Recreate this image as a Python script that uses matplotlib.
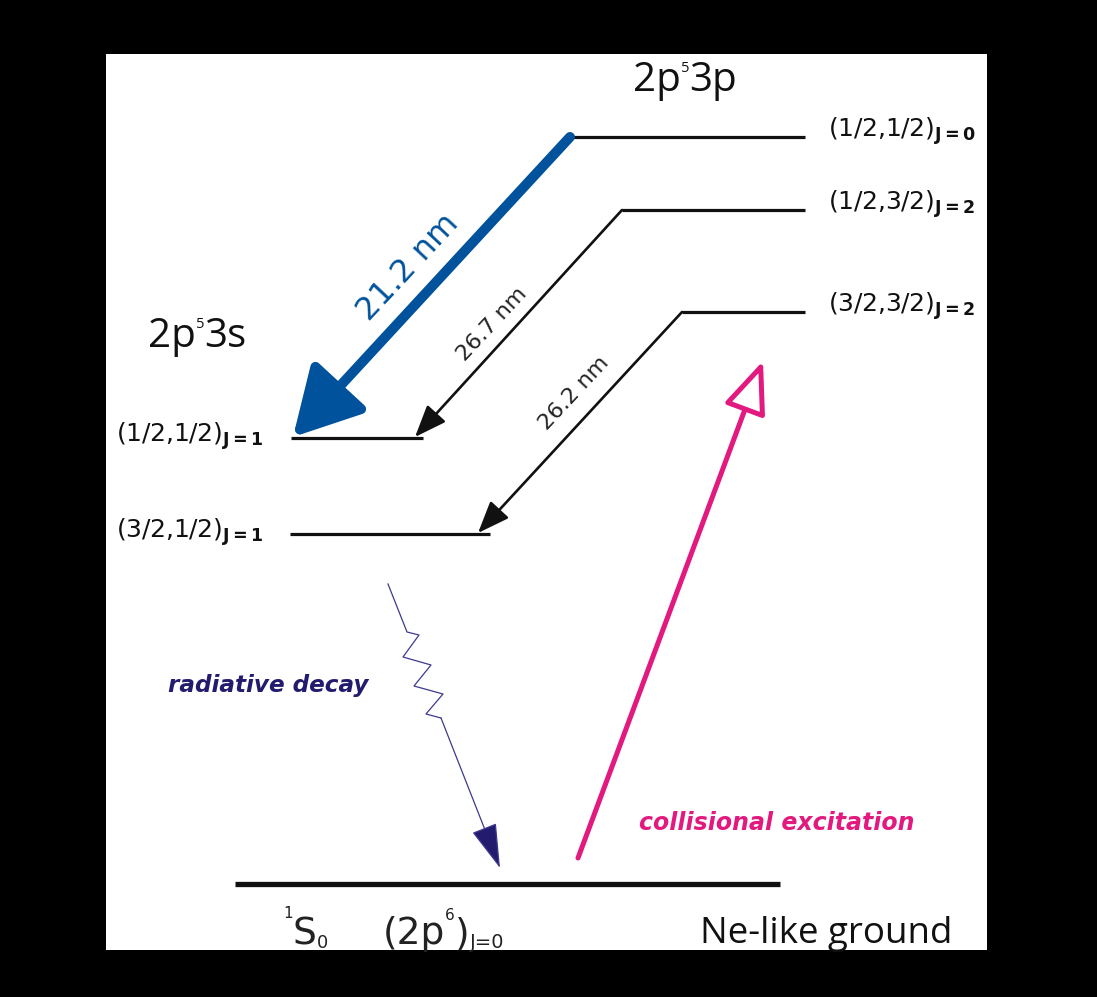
import matplotlib
matplotlib.use("Agg")
import matplotlib.pyplot as plt
from matplotlib.patches import Rectangle

plt.rcParams['mathtext.fontset'] = 'custom'
plt.rcParams['mathtext.rm'] = 'DejaVu Sans'
plt.rcParams['mathtext.bf'] = 'DejaVu Sans:bold'
plt.rcParams['font.family'] = 'DejaVu Sans'

# 2p5 3p (upper) levels: label, y, left end of level line
upper_labels = ['(1/2{,}1/2)', '(1/2{,}3/2)', '(3/2{,}3/2)']
upper_J = ['J=0', 'J=2', 'J=2']
upper_y = [137, 210, 312]
upper_x0 = [570, 622, 682]
upper_x1 = 805

# 2p5 3s (lower) levels
lower_labels = ['(1/2{,}1/2)', '(3/2{,}1/2)']
lower_J = ['J=1', 'J=1']
lower_y = [438, 534]
lower_x0 = [291, 290]
lower_x1 = [423, 490]

# ground level
ground_y = 884
ground_x = [235, 780]

# lasing transitions: upper index -> lower index, tip x on the lower level
trans_upper = [0, 1, 2]
trans_lower = [0, 0, 1]
trans_tip_x = [293, 415, 478]
trans_text = ['21.2 nm', '26.7 nm', '26.2 nm']
trans_text_xy = [(408, 267), (492, 324), (574, 393)]

# radiative decay zigzag and collisional excitation arrow
decay_x = [388, 407, 419, 403, 431, 414, 443, 426, 441]
decay_y = [584, 632, 635, 657, 665, 686, 694, 714, 718]
decay_tip = (500, 868)
excite_start = (578, 858)
excite_tip = (763, 361)

BLUE = '#00529c'
NAVY = '#231c6e'
PINK = '#e2197f'

fig = plt.figure(figsize=(10.97, 9.97), dpi=100, facecolor='black')
ax = fig.add_axes([0, 0, 1, 1])
ax.set_xlim(0, 1097)
ax.set_ylim(997, 0)
ax.axis('off')
ax.add_patch(Rectangle((106, 54), 881, 896, fc='white', ec='none', zorder=0))


def chain(x, y, parts, **kw):
    # pieces of text placed one after another; dy (pixels) shifts the baseline up
    prev = None
    for s, fs, dy in parts:
        if prev is None:
            prev = ax.text(x, y - dy, s, fontsize=fs, va='baseline', **kw)
        else:
            prev = ax.annotate(s, xy=(1, y), xycoords=(prev, 'data'),
                               xytext=(0, dy), textcoords='offset pixels',
                               fontsize=fs, va='baseline', **kw)


# levels
ax.hlines(upper_y, upper_x0, upper_x1, color='#111111', lw=2.3)
ax.hlines(lower_y, lower_x0, lower_x1, color='#111111', lw=2.3)
ax.hlines(ground_y, ground_x[0], ground_x[1], color='#111111', lw=3.8)

for lab, j, y in zip(upper_labels, upper_J, upper_y):
    ax.text(828, y, r'$\mathregular{%s}_{\mathbf{%s}}$' % (lab, j),
            fontsize=18, va='baseline', ha='left', color='#111111')
for lab, j, y in zip(lower_labels, lower_J, lower_y):
    ax.text(263, y + 4, r'$\mathregular{%s}_{\mathbf{%s}}$' % (lab, j),
            fontsize=18, va='baseline', ha='right', color='#111111')

# transitions
for k, (u, l, tx) in enumerate(zip(trans_upper, trans_lower, trans_tip_x)):
    start = (upper_x0[u], upper_y[u])
    tip = (tx, lower_y[l] - 1)
    if k == 0:
        props = dict(arrowstyle='-|>,head_length=2.9,head_width=1.6',
                     mutation_scale=14, lw=7.2, color=BLUE,
                     capstyle='round', shrinkA=0, shrinkB=0)
        col, fs = BLUE, 23
    else:
        props = dict(arrowstyle='-|>,head_length=1.4,head_width=0.55',
                     mutation_scale=14, lw=1.9, color='#111111',
                     shrinkA=0, shrinkB=0)
        col, fs = '#222222', 16
    ax.annotate('', xy=tip, xytext=start, arrowprops=props)
    tx_, ty_ = trans_text_xy[k]
    ax.text(tx_, ty_, trans_text[k], rotation=47, rotation_mode='anchor',
            ha='center', va='center', color=col, fontsize=fs)

# term labels
chain(633, 91, [('2p', 29, 0), ('5', 10.5, 19), ('3p', 29, 0)],
      family='Open Sans', color='#111111')
chain(148, 347, [('2p', 29, 0), ('5', 10.5, 19), ('3s', 29, 0)],
      family='Open Sans', color='#111111')

# radiative decay
ax.plot(decay_x, decay_y, color='#3d3a8e', lw=0.9)
ax.annotate('', xy=decay_tip, xytext=(decay_x[-1], decay_y[-1]),
            arrowprops=dict(arrowstyle='-|>,head_length=2.4,head_width=0.7',
                            mutation_scale=12, lw=0.9, ec='#3d3a8e', fc=NAVY,
                            shrinkA=0, shrinkB=0))
ax.text(268, 685, 'radiative decay', color=NAVY, fontsize=16.7,
        fontweight='bold', fontstyle='italic', ha='center', va='center')

# collisional excitation
ax.annotate('', xy=excite_tip, xytext=excite_start,
            arrowprops=dict(arrowstyle='-|>,head_length=2.3,head_width=0.95',
                            mutation_scale=14, lw=3.6, ec=PINK, fc='white',
                            shrinkA=0, shrinkB=0))
ax.text(777, 823, 'collisional excitation', color=PINK, fontsize=17,
        fontweight='bold', fontstyle='italic', ha='center', va='center')

# ground state labels
chain(283, 944, [('1', 11, 26), ('S', 27, 0), ('0', 13, -4)],
      family='DejaVu Sans', color='#222222')
chain(383, 944, [('(2p', 27, 0), ('6', 11, 24), (')', 27, 0), ('J=0', 14, -4)],
      family='DejaVu Sans', color='#222222')
ax.text(700, 943, 'Ne-like ground', fontsize=26.5, family='Open Sans',
        color='#111111', va='baseline', ha='left')

fig.savefig('out.png', dpi=100, facecolor='black')
